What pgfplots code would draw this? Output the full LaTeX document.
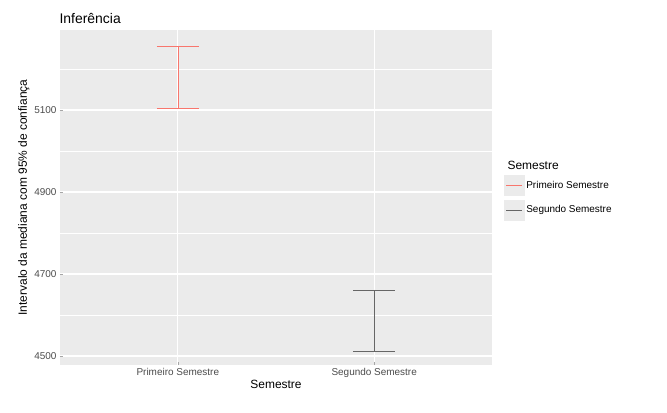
\documentclass[border=0pt]{standalone}
\usepackage{pgfplots}
\pgfplotsset{compat=1.18}
\usepackage{fontspec}
\setmainfont{Liberation Sans}
\definecolor{pR}{HTML}{F8766D}
\definecolor{pG}{HTML}{666666}
\definecolor{panel}{HTML}{EBEBEB}
\begin{document}
\begin{tikzpicture}[x=1bp,y=1bp]
\path[fill=white] (-60,-47) rectangle (607,365);
\begin{axis}[at={(0,0)},anchor=south west,
  scale only axis, width=432bp, height=335bp,
  xmin=0.4, xmax=2.6, ymin=4478, ymax=5295,
  axis background/.style={fill=panel}, axis line style={draw=none},
  grid=both, major grid style={white,line width=1.1pt}, minor grid style={white,line width=0.5pt},
  xtick={1,2}, xticklabels={Primeiro Semestre,Segundo Semestre},
  ytick={4500,4700,4900,5100}, minor ytick={4600,4800,5000,5200},
  tick pos=left, minor tick length=0pt,
  tick style={draw=gray!70}, major tick length=3bp,
  ticklabel style={font=\fontsize{10}{11}\selectfont, text=black!70},
  /pgf/number format/assume math mode=true,
  /pgf/number format/set thousands separator={},
  xlabel={Semestre}, ylabel={Intervalo da mediana com 95\% de confiança},
  label style={font=\fontsize{12}{13}\selectfont},
  xlabel style={yshift=5bp}, ylabel style={yshift=-2bp},
  title={Inferência}, title style={at={(0,1)},anchor=south west,font=\fontsize{14}{15}\selectfont,yshift=-3bp,xshift=-4bp},
  unbounded coords=jump,
  legend style={at={(1.02,0.5)},anchor=west,draw=none,fill=none,font=\fontsize{10}{12}\selectfont,row sep=4bp},
  legend cell align=left,
  legend image code/.code={\fill[panel] (0,-10bp) rectangle (20bp,10bp); \draw (2bp,0) -- (18bp,0);},
]
\addplot[pR, line width=0.5pt] coordinates {(0.893,5256) (1.107,5256) (nan,nan) (1,5256) (1,5105) (nan,nan) (0.893,5105) (1.107,5105)};
\addlegendentry{Primeiro Semestre}
\addplot[pG, line width=0.5pt] coordinates {(1.893,4661) (2.107,4661) (nan,nan) (2,4661) (2,4512) (nan,nan) (1.893,4512) (2.107,4512)};
\addlegendentry{Segundo Semestre}
\end{axis}
\node[anchor=west,font=\fontsize{12}{13}\selectfont] at (444,200) {Semestre};
\end{tikzpicture}
\end{document}
